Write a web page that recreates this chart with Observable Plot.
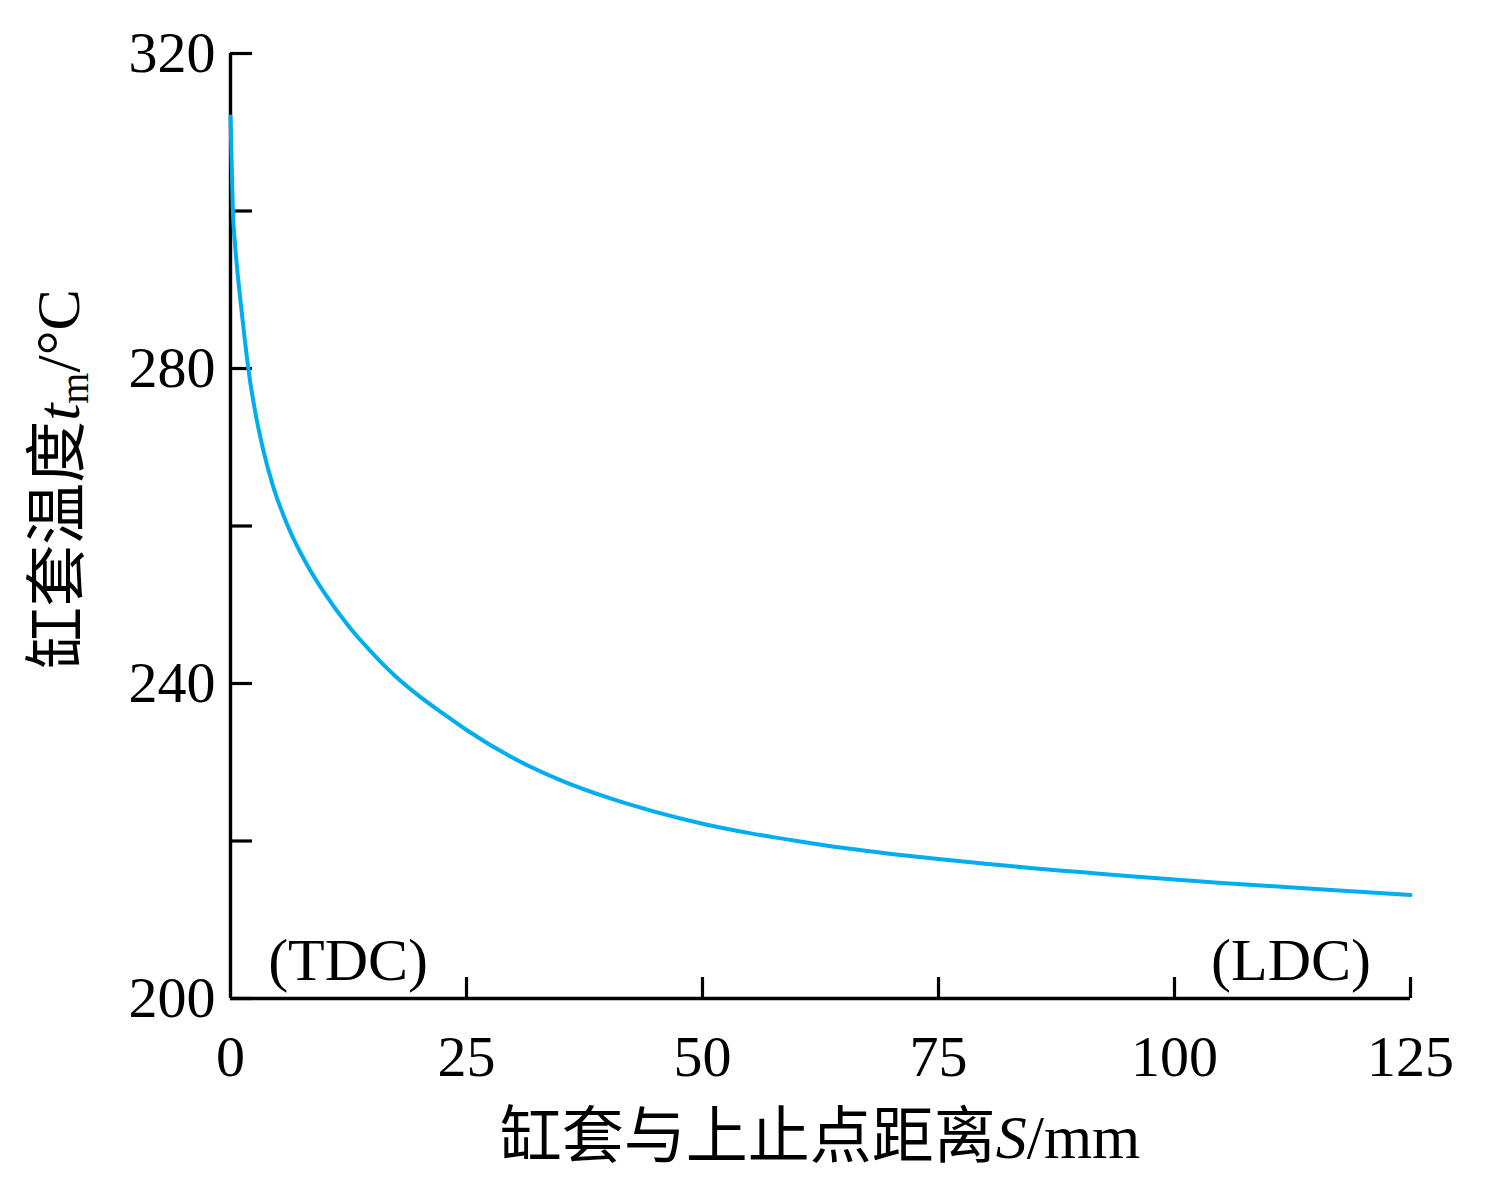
<!DOCTYPE html>
<html>
<head>
<meta charset="utf-8">
<script src="https://cdn.jsdelivr.net/npm/d3@7"></script>
<script src="https://cdn.jsdelivr.net/npm/@observablehq/plot@0.6"></script>
<style>
  html, body { margin: 0; padding: 0; background: #fff; }
  #chart { width: 1488px; height: 1194px; }
</style>
</head>
<body>
<div id="chart"></div>
<script>
// distance from top dead centre S (mm)
const distance = [0, 0.25, 0.5, 1, 1.5, 2, 2.65, 3.5, 4.5, 6, 8, 10, 12.5, 15, 17.5, 20, 22.5, 25, 30, 35, 40, 45, 50, 55, 60, 65, 70, 75, 80, 85, 90, 95, 100, 105, 110, 115, 120, 125];
// liner temperature t_m (°C)
const temperature = [312, 300, 295.5, 289.2, 283.8, 279.0, 274.3, 269.5, 265.1, 260.2, 255.3, 251.4, 247.3, 243.9, 240.9, 238.4, 236.2, 234.1, 230.5, 227.7, 225.5, 223.7, 222.2, 221.0, 220.0, 219.1, 218.35, 217.7, 217.1, 216.55, 216.05, 215.55, 215.1, 214.68, 214.28, 213.9, 213.52, 213.15];

const yTickValues = [200, 220, 240, 260, 280, 300, 320];
const yTickLabels = [200, 240, 280, 320];
const xTickValues = [25, 50, 75, 100, 125];
const xTickLabels = [0, 25, 50, 75, 100, 125];

const noteLabels = ["(TDC)", "(LDC)"];
const noteX = [12.46, 112.35];
const noteY = [202.3, 202.3];

const series = distance.map((s, i) => ({s, t: temperature[i]}));
const notes = noteLabels.map((label, i) => ({label, x: noteX[i], y: noteY[i]}));

const serif = "'Liberation Serif', 'Times New Roman', 'Noto Sans CJK SC', serif";

const plot = Plot.plot({
  width: 1488,
  height: 1194,
  marginLeft: 230,
  marginRight: 78,
  marginTop: 53,
  marginBottom: 196,
  style: {fontFamily: serif, background: "white", color: "black"},
  x: {domain: [0, 125]},
  y: {domain: [200, 320]},
  marks: [
    Plot.axisY(yTickValues, {tickSize: -22, strokeWidth: 3.2, tickFormat: () => "", label: null}),
    Plot.axisY(yTickLabels, {tickSize: 0, tickPadding: 15, fontSize: 58, label: null}),
    Plot.axisX(xTickValues, {tickSize: -21, strokeWidth: 3.2, tickFormat: () => "", label: null}),
    Plot.axisX(xTickLabels, {tickSize: 0, tickPadding: 36, fontSize: 58, label: null}),
    Plot.ruleX([0], {stroke: "black", strokeWidth: 3.4}),
    Plot.ruleY([200], {stroke: "black", strokeWidth: 3.4}),
    Plot.line(series, {x: "s", y: "t", stroke: "#00AEEF", strokeWidth: 4, curve: "monotone-x"}),
    Plot.text(notes, {x: "x", y: "y", text: "label", fontSize: 60, textAnchor: "middle", lineAnchor: "bottom", fill: "black"})
  ]
});

document.getElementById("chart").appendChild(plot);

const svg = d3.select(plot);

// x-axis title
const xt = svg.append("text")
  .attr("x", 820).attr("y", 1158)
  .attr("text-anchor", "middle")
  .attr("font-size", 62)
  .attr("font-family", serif)
  .attr("fill", "black");
xt.append("tspan").attr("font-family", "'Noto Sans CJK SC', sans-serif").text("缸套与上止点距离");
xt.append("tspan").attr("font-style", "italic").text("S");
xt.append("tspan").text("/mm");

// y-axis title
const yt = svg.append("text")
  .attr("transform", "translate(79,479) rotate(-90)")
  .attr("text-anchor", "middle")
  .attr("font-size", 62)
  .attr("font-family", serif)
  .attr("fill", "black");
yt.append("tspan").attr("font-family", "'Noto Sans CJK SC', sans-serif").text("缸套温度");
yt.append("tspan").attr("font-style", "italic").text("t");
yt.append("tspan").attr("font-size", 40).attr("dy", 9).text("m");
yt.append("tspan").attr("dy", -9).text("/°C");
</script>
</body>
</html>
